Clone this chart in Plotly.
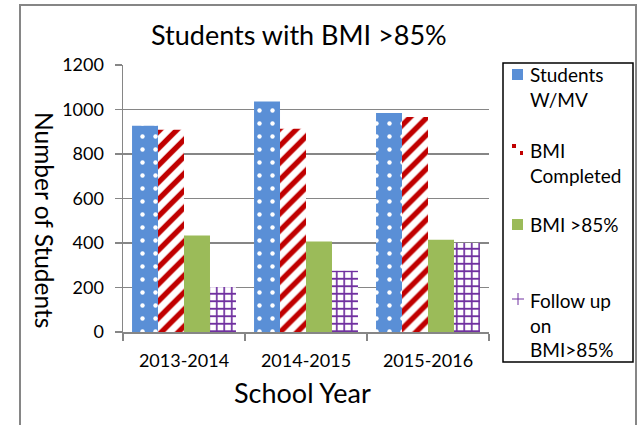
import plotly.graph_objects as go

# ---- data ----
years = ["2013-2014", "2014-2015", "2015-2016"]
series_names = ["Students<br>W/MV", "BMI<br>Completed", "BMI >85%", "Follow up<br>on<br>BMI>85%"]
students_wmv = [927, 1036, 984]
bmi_completed = [909, 914, 966]
bmi_over85 = [434, 407, 415]
follow_up = [202, 275, 400]
y_ticks = [0, 200, 400, 600, 800, 1000, 1200]

W, H = 643, 425
L, R, T, B = 123, 489, 65, 332  # plot area in window pixels

FONT = "Lato"


def px(xp):
    return (xp - L) / (R - L)


def py(yp):
    return (B - yp) / (B - T)


fig = go.Figure()

fig.add_trace(go.Bar(
    x=years, y=students_wmv, name="Students W/MV",
    marker=dict(color="#5A8FD6", line=dict(width=0),
                pattern=dict(shape=".", bgcolor="#5A8FD6", fgcolor="white",
                             fgopacity=1, size=13, solidity=0.09)),
))
fig.add_trace(go.Bar(
    x=years, y=bmi_completed, name="BMI Completed",
    marker=dict(color="white", line=dict(width=0),
                pattern=dict(shape="/", bgcolor="white", fgcolor="#C00000",
                             fgopacity=1, size=12, solidity=0.45)),
))
fig.add_trace(go.Bar(
    x=years, y=bmi_over85, name="BMI >85%",
    marker=dict(color="#9BBB59", line=dict(width=0)),
))
fig.add_trace(go.Bar(
    x=years, y=follow_up, name="Follow up on BMI>85%",
    marker=dict(color="white", line=dict(width=0),
                pattern=dict(shape="+", bgcolor="white", fgcolor="#7030A0",
                             fgopacity=1, size=7.5, solidity=0.4)),
))

gray = "#868686"

shapes = []
# outer chart border
shapes.append(dict(type="rect", xref="paper", yref="paper",
                   x0=px(20), x1=px(636), y0=py(440), y1=py(5),
                   line=dict(color=gray, width=2), layer="below"))
# legend box
shapes.append(dict(type="rect", xref="paper", yref="paper",
                   x0=px(503), x1=px(633), y0=py(362), y1=py(63),
                   line=dict(color="black", width=1.5)))
# legend symbols
shapes.append(dict(type="rect", xref="paper", yref="paper",
                   x0=px(512), x1=px(523), y0=py(80), y1=py(69),
                   line=dict(width=0), fillcolor="#5A8FD6"))
shapes.append(dict(type="rect", xref="paper", yref="paper",
                   x0=px(512), x1=px(516), y0=py(148), y1=py(144),
                   line=dict(width=0), fillcolor="#C00000"))
shapes.append(dict(type="rect", xref="paper", yref="paper",
                   x0=px(520), x1=px(523), y0=py(155), y1=py(151),
                   line=dict(width=0), fillcolor="#C00000"))
shapes.append(dict(type="rect", xref="paper", yref="paper",
                   x0=px(512), x1=px(523), y0=py(230), y1=py(219),
                   line=dict(width=0), fillcolor="#9BBB59"))
shapes.append(dict(type="line", xref="paper", yref="paper",
                   x0=px(512), x1=px(524), y0=py(299), y1=py(299),
                   line=dict(color="#7030A0", width=1)))
shapes.append(dict(type="line", xref="paper", yref="paper",
                   x0=px(518), x1=px(518), y0=py(293), y1=py(305),
                   line=dict(color="#7030A0", width=1)))

annotations = []
legend_centers = [87, 163, 224, 325]
for name, yc in zip(series_names, legend_centers):
    annotations.append(dict(text=name, xref="paper", yref="paper",
                            x=px(528), y=py(yc), xanchor="left", yanchor="middle",
                            align="left", showarrow=False,
                            font=dict(family=FONT, size=19, color="black")))
# title
annotations.append(dict(text="Students with BMI >85%", xref="paper", yref="paper",
                        x=px(299), y=py(35), xanchor="center", yanchor="middle",
                        showarrow=False, font=dict(family=FONT, size=27, color="black")))
# axis titles
annotations.append(dict(text="School Year", xref="paper", yref="paper",
                        x=px(302), y=py(393), xanchor="center", yanchor="middle",
                        showarrow=False, font=dict(family=FONT, size=27, color="black")))
annotations.append(dict(text="Number of Students", xref="paper", yref="paper",
                        x=px(45), y=py(220), xanchor="center", yanchor="middle",
                        textangle=90, showarrow=False,
                        font=dict(family=FONT, size=24.5, color="black")))

fig.update_layout(
    width=W, height=H,
    margin=dict(l=L, r=W - R, t=T, b=H - B, pad=0),
    paper_bgcolor="white", plot_bgcolor="white",
    barmode="group", bargap=0.148, bargroupgap=0,
    showlegend=False,
    shapes=shapes, annotations=annotations,
    font=dict(family=FONT, color="black"),
)
fig.update_xaxes(
    showline=True, linecolor=gray, linewidth=1.5,
    ticks="outside", tickson="boundaries", ticklen=7, tickcolor=gray, tickwidth=1.5,
    tickfont=dict(family=FONT, size=18, color="black"),
    ticklabelstandoff=12, showgrid=False,
)
fig.update_yaxes(
    range=[0, 1200], tickvals=y_ticks,
    showline=True, linecolor=gray, linewidth=1.5,
    ticks="outside", ticklen=7, tickcolor=gray, tickwidth=1.5,
    tickfont=dict(family=FONT, size=18, color="black"),
    ticklabelstandoff=7,
    showgrid=True, gridcolor=gray, gridwidth=1.5, zeroline=False,
)

fig.write_html("out.html",
               config={"displayModeBar": False, "staticPlot": True},
               post_script="document.body.style.margin='0';document.body.style.overflow='hidden';")
